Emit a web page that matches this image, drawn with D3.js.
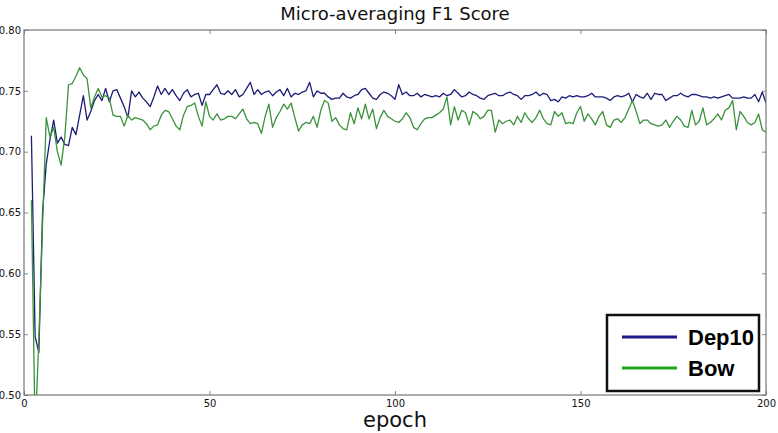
<!DOCTYPE html>
<html>
<head>
<meta charset="utf-8">
<script src="https://cdn.jsdelivr.net/npm/d3@7"></script>
<style>
	body { margin: 0; background: #fff; }
	.tick text { font-family: "DejaVu Sans", sans-serif; font-size: 10px; fill: #111; }
	.tick line { stroke: #888; }
</style>
</head>
<body>
<svg id="chart" width="778" height="433"></svg>
<script>
// epochs 2..200 (the first point sits at epoch 2 in the picture)
var epochs = d3.range(2, 201);

var dep10 = [
	0.713, 0.548, 0.535, 0.650, 0.690, 0.710, 0.726, 0.707, 0.712,
	0.706, 0.705, 0.720, 0.714, 0.730, 0.746, 0.726, 0.733, 0.742, 0.747,
	0.742, 0.752, 0.741, 0.750, 0.751, 0.744, 0.737, 0.728, 0.750, 0.745,
	0.749, 0.744, 0.741, 0.737, 0.745, 0.754, 0.747, 0.752, 0.747, 0.751,
	0.746, 0.742, 0.748, 0.751, 0.745, 0.747, 0.748, 0.738, 0.747, 0.747,
	0.751, 0.755, 0.748, 0.747, 0.750, 0.747, 0.751, 0.745, 0.747, 0.752,
	0.757, 0.747, 0.751, 0.747, 0.749, 0.750, 0.746, 0.749, 0.751, 0.746,
	0.752, 0.745, 0.748, 0.747, 0.749, 0.750, 0.757, 0.745, 0.750, 0.748,
	0.748, 0.745, 0.743, 0.744, 0.744, 0.748, 0.745, 0.744, 0.746, 0.747,
	0.751, 0.752, 0.748, 0.744, 0.743, 0.747, 0.749, 0.748, 0.746, 0.743,
	0.755, 0.747, 0.749, 0.746, 0.746, 0.748, 0.745, 0.747, 0.746, 0.745,
	0.746, 0.745, 0.748, 0.746, 0.747, 0.751, 0.748, 0.745, 0.746, 0.749,
	0.747, 0.746, 0.744, 0.743, 0.746, 0.747, 0.748, 0.746, 0.746, 0.748,
	0.749, 0.747, 0.746, 0.743, 0.746, 0.746, 0.747, 0.749, 0.746, 0.748,
	0.747, 0.742, 0.743, 0.741, 0.745, 0.744, 0.746, 0.745, 0.746, 0.745,
	0.745, 0.746, 0.748, 0.745, 0.745, 0.745, 0.744, 0.742, 0.745, 0.746,
	0.745, 0.746, 0.748, 0.741, 0.747, 0.745, 0.744, 0.748, 0.743, 0.748,
	0.747, 0.747, 0.742, 0.744, 0.746, 0.746, 0.748, 0.746, 0.745, 0.747,
	0.747, 0.746, 0.745, 0.745, 0.744, 0.745, 0.744, 0.745, 0.746, 0.747,
	0.744, 0.744, 0.744, 0.745, 0.744, 0.744, 0.747, 0.741, 0.749, 0.740
];

var bow = [
	0.660, 0.470, 0.545, 0.640, 0.728, 0.712, 0.720, 0.700, 0.689,
	0.712, 0.755, 0.756, 0.762, 0.769, 0.763, 0.760, 0.736, 0.745, 0.752,
	0.745, 0.746, 0.744, 0.730, 0.729, 0.729, 0.721, 0.730, 0.726, 0.728,
	0.727, 0.726, 0.723, 0.718, 0.721, 0.722, 0.730, 0.734, 0.733, 0.727,
	0.721, 0.718, 0.730, 0.737, 0.738, 0.740, 0.729, 0.721, 0.741, 0.729,
	0.726, 0.731, 0.726, 0.727, 0.729, 0.729, 0.727, 0.731, 0.735, 0.727,
	0.723, 0.724, 0.723, 0.715, 0.729, 0.739, 0.720, 0.728, 0.733, 0.739,
	0.735, 0.740, 0.728, 0.717, 0.722, 0.724, 0.723, 0.729, 0.720, 0.734,
	0.742, 0.740, 0.725, 0.728, 0.722, 0.719, 0.718, 0.732, 0.723, 0.736,
	0.727, 0.739, 0.727, 0.735, 0.719, 0.728, 0.734, 0.729, 0.727, 0.725,
	0.724, 0.727, 0.732, 0.728, 0.720, 0.718, 0.723, 0.727, 0.728, 0.728,
	0.730, 0.732, 0.735, 0.745, 0.722, 0.737, 0.726, 0.734, 0.732, 0.722,
	0.733, 0.731, 0.727, 0.729, 0.734, 0.734, 0.716, 0.726, 0.723, 0.725,
	0.726, 0.722, 0.729, 0.724, 0.732, 0.727, 0.724, 0.728, 0.734, 0.727,
	0.723, 0.722, 0.733, 0.729, 0.732, 0.723, 0.724, 0.723, 0.732, 0.737,
	0.725, 0.731, 0.727, 0.722, 0.729, 0.733, 0.722, 0.720, 0.726, 0.727,
	0.724, 0.728, 0.735, 0.742, 0.733, 0.723, 0.726, 0.726, 0.723, 0.722,
	0.721, 0.722, 0.726, 0.720, 0.725, 0.729, 0.726, 0.721, 0.720, 0.734,
	0.722, 0.725, 0.736, 0.722, 0.724, 0.727, 0.731, 0.726, 0.734, 0.736,
	0.742, 0.718, 0.733, 0.729, 0.724, 0.722, 0.724, 0.731, 0.718, 0.716
];

var xTicks = [0, 50, 100, 150, 200];
var yTicks = [0.50, 0.55, 0.60, 0.65, 0.70, 0.75, 0.80];

var seriesNames = ["Dep10", "Bow"];
var seriesColors = ["#1c1c78", "#3a923a"];
var legendColors = ["#1a1a88", "#1ea51e"];

var svg = d3.select("#chart");
var width = +svg.attr("width");
var height = +svg.attr("height");
var margin = { top: 30, right: 12, bottom: 38, left: 24 };
var innerW = width - margin.left - margin.right;
var innerH = height - margin.top - margin.bottom;

var x = d3.scaleLinear().domain([0, 200]).range([0, innerW]);
var y = d3.scaleLinear().domain([0.50, 0.80]).range([innerH, 0]);

var g = svg.append("g")
	.attr("transform", "translate(" + margin.left + "," + margin.top + ")");

g.append("clipPath").attr("id", "plotclip")
	.append("rect").attr("width", innerW).attr("height", innerH);

// axes, matplotlib style: ticks point inwards, no outer ticks
g.append("g")
	.attr("transform", "translate(0," + innerH + ")")
	.call(d3.axisBottom(x).tickValues(xTicks).tickSizeInner(-4).tickSizeOuter(0).tickPadding(5).tickFormat(d3.format("d")))
	.call(a => a.select(".domain").remove());

g.append("g")
	.call(d3.axisTop(x).tickValues(xTicks).tickSizeInner(-4).tickSizeOuter(0).tickFormat(""))
	.call(a => a.select(".domain").remove());

g.append("g")
	.call(d3.axisLeft(y).tickValues(yTicks).tickSizeInner(-4).tickSizeOuter(0).tickPadding(3).tickFormat(d3.format(".2f")))
	.call(a => a.select(".domain").remove());

g.append("g")
	.attr("transform", "translate(" + innerW + ",0)")
	.call(d3.axisRight(y).tickValues(yTicks).tickSizeInner(-4).tickSizeOuter(0).tickFormat(""))
	.call(a => a.select(".domain").remove());

// lines
var line = d3.line()
	.x((d, i) => x(epochs[i]))
	.y(d => y(d));

var lines = g.append("g").attr("clip-path", "url(#plotclip)");
[dep10, bow].forEach(function(values, k) {
	lines.append("path")
		.datum(values)
		.attr("d", line)
		.style("fill", "none")
		.style("stroke", seriesColors[k])
		.style("stroke-width", 1.3)
		.style("stroke-linejoin", "round");
});

// frame
g.append("rect")
	.attr("width", innerW)
	.attr("height", innerH)
	.style("fill", "none")
	.style("stroke", "#777")
	.style("stroke-width", 1.2);

// title + axis label
svg.append("text")
	.attr("x", margin.left + innerW / 2)
	.attr("y", 20)
	.attr("text-anchor", "middle")
	.style("font-family", "DejaVu Sans, sans-serif")
	.style("font-size", "18px")
	.style("fill", "#111")
	.text("Micro-averaging F1 Score");

svg.append("text")
	.attr("x", margin.left + innerW / 2)
	.attr("y", 427)
	.attr("text-anchor", "middle")
	.style("font-family", "DejaVu Sans, sans-serif")
	.style("font-size", "21px")
	.style("fill", "#111")
	.text("epoch");

// legend
var legend = svg.append("g").attr("transform", "translate(607,315)");
legend.append("rect")
	.attr("width", 152)
	.attr("height", 76)
	.style("fill", "#fff")
	.style("stroke", "#111")
	.style("stroke-width", 2.5);

seriesNames.forEach(function(name, k) {
	var row = legend.append("g").attr("transform", "translate(0," + (22 + k * 31) + ")");
	row.append("line")
		.attr("x1", 15).attr("x2", 70)
		.style("stroke", legendColors[k])
		.style("stroke-width", 3);
	row.append("text")
		.attr("x", 81)
		.attr("y", 0)
		.attr("dy", "0.35em")
		.style("font-family", "Liberation Sans, Arial, sans-serif")
		.style("font-weight", "bold")
		.style("font-size", "22px")
		.style("fill", "#000")
		.text(name);
});
</script>
</body>
</html>
